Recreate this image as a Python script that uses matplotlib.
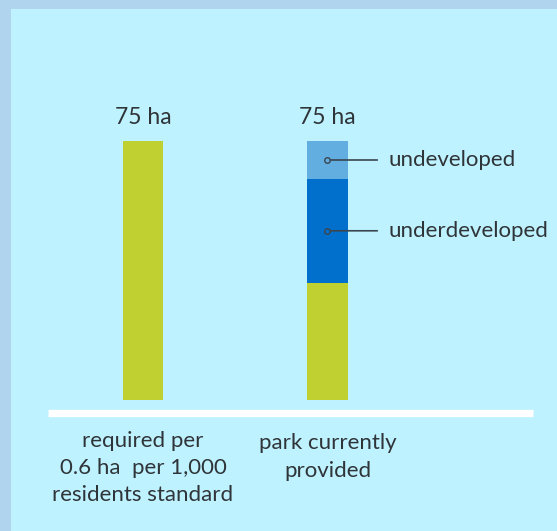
import matplotlib
matplotlib.use("Agg")
import matplotlib.pyplot as plt
from matplotlib.patches import Rectangle

plt.rcParams['font.family'] = ['Lato', 'DejaVu Sans']

categories = ["required per\n0.6 ha  per 1,000\nresidents standard", "park currently\nprovided"]
required = [75, 0]
provided_developed = [0, 34]
underdeveloped = [0, 30]
undeveloped = [0, 11]
totals_labels = ["75 ha", "75 ha"]

bg = "#BFF2FF"
border = "#B0D4EE"
green = "#BFD030"
dark_blue = "#0070CC"
light_blue = "#62AEE0"
text_c = "#2F3438"

W, H = 557, 531
fig = plt.figure(figsize=(W / 100, H / 100), dpi=100)
fig.patch.set_facecolor(border)
fig.add_artist(Rectangle((11 / W, 0), 1, 1 - 9 / H, transform=fig.transFigure,
                         facecolor=bg, edgecolor="none", zorder=0))

left_px, right_px = 48, 533
c0, c1 = 143, 327.5
unit = c1 - c0
xmin = -(c0 - left_px) / unit
xmax = 1 + (right_px - c1) / unit
ax = fig.add_axes([left_px / W, (H - 400) / H, (right_px - left_px) / W, 259 / H])
ax.set_xlim(xmin, xmax)
ax.set_ylim(0, 75)
ax.axis("off")

x = [0, 1]
wbar = 40.5 / unit
ax.bar(x[0], required[0], width=wbar, color=green)
ax.bar(x[1], provided_developed[1], width=wbar, color=green)
ax.bar(x[1], underdeveloped[1], bottom=provided_developed[1], width=wbar, color=dark_blue)
ax.bar(x[1], undeveloped[1], bottom=provided_developed[1] + underdeveloped[1], width=wbar,
       color=light_blue)

for xi, lab in zip(x, totals_labels):
    ax.annotate(lab, (xi, 75), xytext=(0, 9), textcoords="offset points",
                ha="center", va="bottom", fontsize=16.5, color=text_c)

# baseline
ax.axhline(-12.5 * 75 / 259, color="white", lw=5.2, clip_on=False, solid_capstyle="butt")

# category labels
for xi, lab, dy in zip(x, categories, [-22, -24]):
    ax.annotate(lab, (xi, 0), xytext=(0, dy), textcoords="offset points",
                ha="center", va="top", fontsize=16, color=text_c, linespacing=1.45)

# segment annotations
seg_names = ["undeveloped", "underdeveloped"]
seg_mid = [provided_developed[1] + underdeveloped[1] + undeveloped[1] / 2,
           provided_developed[1] + underdeveloped[1] / 2]
for name, ym in zip(seg_names, seg_mid):
    ax.plot([x[1] - 0.005], [ym], marker="o", ms=4, mfc="none", mec="#3A4650", mew=1)
    ax.annotate("", xy=(x[1] + 0.015, ym), xytext=(x[1] + 0.27, ym),
                arrowprops=dict(arrowstyle="-", color="#3A4650", lw=1.2,
                                shrinkA=0, shrinkB=0))
    ax.annotate(name, (x[1] + 0.27, ym), xytext=(8, 0), textcoords="offset points",
                ha="left", va="center", fontsize=16, color=text_c)

fig.savefig("out.png", dpi=100, facecolor=fig.get_facecolor())
